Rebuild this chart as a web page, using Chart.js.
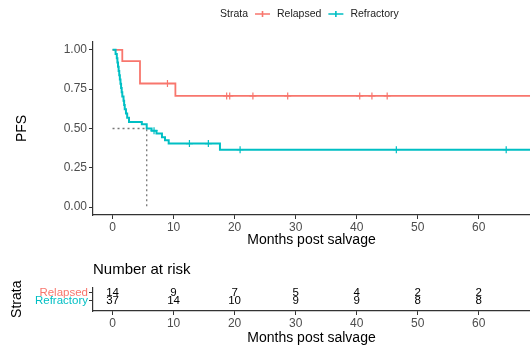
<!DOCTYPE html>
<html>
<head>
<meta charset="utf-8">
<script src="https://cdn.jsdelivr.net/npm/chart.js@4.4.0/dist/chart.umd.min.js"></script>
<style>
  body { margin: 0; background: #fff; }
  canvas { display: block; }
</style>
</head>
<body>
<canvas id="km" width="530" height="249"></canvas>
<canvas id="risk" width="530" height="98"></canvas>
<script>
// survival steps (months, PFS)
var relapsedTimes = [0, 1.6, 4.5, 10.3, 70];
var relapsedSurv = [1, 0.929, 0.786, 0.707, 0.707];
var relapsedCensor = [9.0, 18.7, 19.2, 23.0, 28.7, 40.5, 42.5, 45.0];

var refractoryTimes = [0, 0.5, 0.7, 0.8, 0.9, 1.0, 1.1, 1.2, 1.3, 1.4, 1.5, 1.6, 1.8, 1.9, 2.0, 2.2, 2.4, 2.7, 4.8, 5.6, 6.4, 7.2, 8.1, 8.6, 9.2, 17.6, 70];
var refractorySurv = [1, 0.973, 0.946, 0.919, 0.892, 0.865, 0.838, 0.811, 0.784, 0.757, 0.730, 0.703, 0.676, 0.649, 0.622, 0.595, 0.568, 0.541, 0.527, 0.500, 0.486, 0.468, 0.445, 0.425, 0.404, 0.365, 0.365];
var refractoryCensor = [6.8, 12.6, 15.7, 20.9, 46.5, 64.5];
var refractoryMedian = 5.6;

var xTicks = [0, 10, 20, 30, 40, 50, 60];
var yTicks = [0, 0.25, 0.5, 0.75, 1];

var strata = ['Relapsed', 'Refractory'];
var strataColors = ['#F8766D', '#00BFC4'];
var riskTimes = [0, 10, 20, 30, 40, 50, 60];
var relapsedRisk = [14, 9, 7, 5, 4, 2, 2];
var refractoryRisk = [37, 14, 10, 9, 9, 8, 8];

var FONT = "'Liberation Sans', Arial, sans-serif";
var X_MIN = -3.2, X_MAX = 68.4;

function steps(times, surv) {
    return times.map(function (t, i) { return { x: t, y: surv[i] }; });
}
// survival at time t, looked up from the step arrays
function survAt(times, surv, t) {
    var s = surv[0];
    for (var i = 0; i < times.length; i++) {
        if (times[i] <= t) s = surv[i];
    }
    return s;
}
function marks(cens, times, surv) {
    return cens.map(function (t) { return { x: t, y: survAt(times, surv, t) }; });
}
function fixTicks(list) {
    return function (scale) {
        scale.ticks = list.map(function (v) { return { value: v }; });
    };
}

var xAxis = function (height) {
    return {
        type: 'linear',
        min: X_MIN,
        max: X_MAX,
        afterBuildTicks: fixTicks(xTicks),
        afterFit: function (s) { s.height = height; },
        grid: { drawOnChartArea: false, tickLength: 4, color: '#333' },
        border: { color: '#333', width: 1.2 },
        ticks: { color: '#4d4d4d', font: { family: FONT, size: 12 }, padding: 1, maxRotation: 0 },
        title: { display: true, text: 'Months post salvage', color: '#000', font: { family: FONT, size: 14 }, padding: 0 }
    };
};

// legend drawn like the ggplot one: "Strata" then line key + label
var legendPlugin = {
    id: 'strataLegend',
    afterDraw: function (chart) {
        var ctx = chart.ctx;
        var x = 220, y = 14;
        ctx.save();
        ctx.font = '10.5px ' + FONT;
        ctx.textBaseline = 'middle';
        ctx.fillStyle = '#222';
        ctx.fillText('Strata', x, y);
        x += ctx.measureText('Strata').width + 7;
        strata.forEach(function (name, i) {
            ctx.strokeStyle = strataColors[i];
            ctx.lineWidth = 1.6;
            ctx.beginPath();
            ctx.moveTo(x, y); ctx.lineTo(x + 15, y);
            ctx.moveTo(x + 7.5, y - 3); ctx.lineTo(x + 7.5, y + 3);
            ctx.stroke();
            x += 22;
            ctx.fillStyle = '#222';
            ctx.fillText(name, x, y);
            x += ctx.measureText(name).width + 7;
        });
        ctx.restore();
    }
};

new Chart(document.getElementById('km'), {
    type: 'line',
    data: {
        datasets: [
            {
                label: 'median',
                data: [{ x: 0, y: 0.5 }, { x: refractoryMedian, y: 0.5 }, { x: refractoryMedian, y: 0 }],
                borderColor: '#777',
                borderWidth: 1.3,
                borderDash: [2, 3],
                pointRadius: 0,
                order: 5
            },
            {
                label: 'Relapsed',
                data: steps(relapsedTimes, relapsedSurv),
                stepped: true,
                borderColor: strataColors[0],
                borderWidth: 1.8,
                pointRadius: 0,
                order: 2
            },
            {
                label: 'Refractory',
                data: steps(refractoryTimes, refractorySurv),
                stepped: true,
                borderColor: strataColors[1],
                borderWidth: 2,
                pointRadius: 0,
                order: 1
            },
            {
                type: 'scatter',
                label: 'Relapsed censored',
                data: marks(relapsedCensor, relapsedTimes, relapsedSurv),
                pointStyle: 'cross',
                pointRadius: 3.5,
                borderColor: strataColors[0],
                borderWidth: 1.2,
                order: 0
            },
            {
                type: 'scatter',
                label: 'Refractory censored',
                data: marks(refractoryCensor, refractoryTimes, refractorySurv),
                pointStyle: 'cross',
                pointRadius: 3.5,
                borderColor: strataColors[1],
                borderWidth: 1.2,
                order: 0
            }
        ]
    },
    options: {
        responsive: false,
        animation: false,
        layout: { autoPadding: false, padding: { top: 42, right: 0, left: 0, bottom: 0 } },
        plugins: { legend: { display: false }, tooltip: { enabled: false } },
        scales: {
            x: xAxis(34),
            y: {
                min: -0.05,
                max: 1.05,
                afterBuildTicks: fixTicks(yTicks),
                afterFit: function (s) { s.width = 93; },
                grid: { drawOnChartArea: false, tickLength: 4, color: '#333' },
                border: { color: '#333', width: 1.2 },
                ticks: {
                    color: '#4d4d4d', font: { family: FONT, size: 12 }, padding: 2,
                    callback: function (v) { return v.toFixed(2); }
                },
                title: { display: true, text: 'PFS', color: '#000', font: { family: FONT, size: 14 }, padding: { top: 14, bottom: 0 } }
            }
        }
    },
    plugins: [legendPlugin]
});

// row positions of the risk table (Relapsed above Refractory)
var rowPos = [2.3, 1.3];

var riskPlugin = {
    id: 'riskTable',
    afterDraw: function (chart) {
        var ctx = chart.ctx;
        var xs = chart.scales.x, ys = chart.scales.y;
        ctx.save();
        ctx.fillStyle = '#000';
        ctx.font = '15px ' + FONT;
        ctx.textBaseline = 'middle';
        ctx.textAlign = 'left';
        ctx.fillText('Number at risk', chart.chartArea.left, 21);
        ctx.font = '11.5px ' + FONT;
        ctx.textAlign = 'center';
        [relapsedRisk, refractoryRisk].forEach(function (row, r) {
            row.forEach(function (n, j) {
                ctx.fillText(String(n), xs.getPixelForValue(riskTimes[j]), ys.getPixelForValue(rowPos[r]));
            });
        });
        ctx.restore();
    }
};

new Chart(document.getElementById('risk'), {
    type: 'line',
    data: { datasets: [] },
    options: {
        responsive: false,
        animation: false,
        layout: { autoPadding: false, padding: { top: 38.5, left: 0, right: 0, bottom: 0 } },
        plugins: { legend: { display: false }, tooltip: { enabled: false } },
        scales: {
            x: xAxis(36),
            y: {
                min: 0,
                max: 3,
                afterBuildTicks: fixTicks(rowPos),
                afterFit: function (s) { s.width = 93; },
                grid: { drawOnChartArea: false, tickLength: 4, color: '#333' },
                border: { color: '#333', width: 1.2 },
                ticks: {
                    autoSkip: false,
                    font: { family: FONT, size: 11.5 },
                    padding: 1,
                    color: function (c) { return strataColors[rowPos.indexOf(c.tick.value)]; },
                    callback: function (v) { return strata[rowPos.indexOf(v)]; }
                },
                title: { display: true, text: 'Strata', color: '#000', font: { family: FONT, size: 14 }, padding: { top: 9, bottom: 0 } }
            }
        }
    },
    plugins: [riskPlugin]
});
</script>
</body>
</html>
